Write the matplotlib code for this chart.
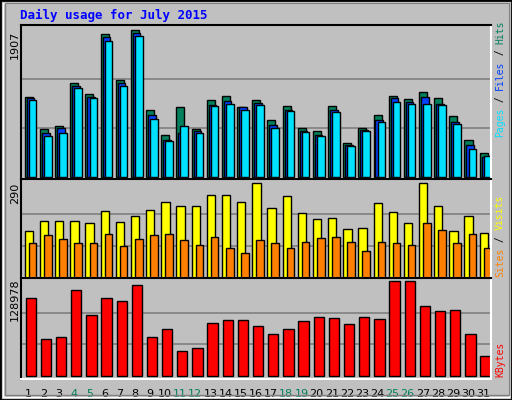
import numpy as np
import matplotlib
matplotlib.use("Agg")
import matplotlib.pyplot as plt
from matplotlib.patches import Rectangle

days = list(range(1, 32))
weekend = [4, 5, 11, 12, 18, 19, 25, 26]
hits = [1035, 613, 664, 1221, 1079, 1855, 1260, 1907, 859, 535, 910, 613, 1001, 1053, 910, 1001, 729, 923, 638, 587, 923, 431, 638, 794, 1053, 1014, 1104, 1027, 781, 470, 302]
files = [1027, 561, 626, 1182, 1035, 1812, 1221, 1868, 794, 470, 561, 587, 936, 988, 906, 962, 677, 871, 587, 535, 871, 406, 600, 729, 1027, 975, 1040, 949, 716, 406, 250]
pages = [1001, 522, 561, 1156, 1027, 1764, 1182, 1829, 742, 457, 664, 561, 923, 949, 871, 936, 638, 858, 574, 522, 833, 393, 587, 716, 975, 949, 949, 936, 690, 354, 263]
visits = [143, 174, 174, 174, 168, 202, 171, 189, 205, 230, 218, 218, 252, 252, 230, 290, 212, 249, 196, 180, 183, 149, 152, 227, 199, 168, 290, 220, 143, 189, 136]
sites = [105, 130, 118, 105, 105, 133, 96, 118, 130, 133, 114, 101, 124, 89, 76, 114, 105, 89, 108, 120, 124, 108, 80, 108, 105, 99, 167, 145, 105, 133, 92]
kbytes = [105930, 50857, 53681, 117230, 83340, 105930, 103100, 124290, 53681, 63570, 33910, 38150, 72040, 76270, 76270, 67800, 56510, 63570, 74860, 80500, 79090, 70630, 80500, 77680, 129390, 129390, 95230, 88170, 89580, 57090, 27510]

green, blue, cyan = "#00805C", "#0040FF", "#00E0FF"
yellow, orange, red = "#FFFF00", "#FF8000", "#FF0000"
W, H = 512, 400

fig = plt.figure(figsize=(5.12, 4.0), dpi=100, facecolor="#C0C0C0")
# outer frame / bevel
fig.add_artist(Rectangle((0, 0), 1, 1, transform=fig.transFigure, fill=False, ec="black", lw=2))
fig.add_artist(Rectangle((3 / W, 3 / H), 1 - 6 / W, 1 - 6 / H, transform=fig.transFigure, fill=False, ec="white", lw=1))
fig.add_artist(Rectangle((5 / W, 5 / H), 1 - 8 / W, 1 - 8 / H, transform=fig.transFigure, fill=False, ec="#808080", lw=1))


def panel(top, bottom, ymin, ymax, grid):
    ax = fig.add_axes([21 / W, 1 - bottom / H, 470 / W, (bottom - top) / H])
    ax.set_facecolor("#C0C0C0")
    ax.set_xlim(0.5, 31.5)
    ax.set_ylim(ymin, ymax)
    for g in grid:
        ax.axhline(g, color="#808080", lw=1.2, zorder=0)
    ax.set_xticks([])
    ax.set_yticks([])
    ax.spines["left"].set_color("black")
    ax.spines["top"].set_color("black")
    ax.spines["right"].set_color("white")
    ax.spines["bottom"].set_color("white")
    for s in ax.spines.values():
        s.set_linewidth(1.5)
    return ax


x = np.array(days)
kw = dict(align="edge", edgecolor="black", linewidth=1)

ax1 = panel(25, 179, -30, 1968, [1907 / 3, 2 * 1907 / 3])
ax1.bar(x - 0.25, hits, 0.53, color=green, **kw)
ax1.bar(x - 0.12, files, 0.5, color=blue, **kw)
ax1.bar(x + 0.02, pages, 0.5, color=cyan, **kw)

ax2 = panel(179, 278, -1, 301, [290 / 3, 2 * 290 / 3])
ax2.bar(x - 0.25, visits, 0.55, color=yellow, **kw)
ax2.bar(x + 0.02, sites, 0.5, color=orange, **kw)

ax3 = panel(278, 379, -4650, 134060, [128978 / 3, 2 * 128978 / 3])
ax3.bar(x - 0.2, kbytes, 0.68, color=red, **kw)
for d in days:
    ax3.text(d, -0.1, str(d), transform=ax3.get_xaxis_transform(), ha="center", va="top",
             fontsize=8, color=green if d in weekend else "black")

fig.text(20 / W, 1 - 15 / H, "Daily usage for July 2015", color="#0000FF", fontsize=9,
         fontweight="bold", family="DejaVu Sans Mono", va="center")

for lab, yc in [("1907", 45), ("290", 193), ("128978", 300)]:
    fig.text(15 / W, 1 - yc / H, lab, rotation=90, ha="center", va="center", fontsize=8)

FS = 7


def side(parts, ybot):
    # stack rotated coloured words upward from ybot
    step = 0.6 * FS * 100 / 72
    y = ybot
    for txt, col in parts:
        fig.text(500 / W, 1 - y / H, txt, rotation=90, ha="center", va="bottom",
                 color=col, fontsize=FS, family="DejaVu Sans Mono")
        y -= len(txt) * step


side([("Pages", cyan), (" / ", "black"), ("Files", blue), (" / ", "black"), ("Hits", green)], 137)
side([("Sites", orange), (" / ", "black"), ("Visits", yellow)], 277)
side([("KBytes", red)], 377)

fig.savefig("out.png", dpi=100, facecolor=fig.get_facecolor())
